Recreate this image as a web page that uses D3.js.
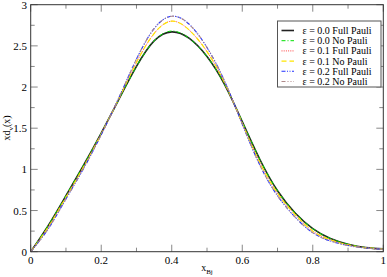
<!DOCTYPE html>
<html>
<head>
<meta charset="utf-8">
<script src="https://cdn.jsdelivr.net/npm/d3@7"></script>
<style>
  body { margin: 0; background: #fff; }
  svg { display: block; font-family: "Liberation Serif", "DejaVu Serif", serif; }
</style>
</head>
<body>
<svg id="chart" width="387" height="277"></svg>
<script>
// x grid the curves were read at
var xBj = [0, 0.05, 0.1, 0.15, 0.2, 0.25, 0.3, 0.35, 0.4, 0.45, 0.5, 0.55, 0.6, 0.65, 0.7, 0.75, 0.8, 0.85, 0.9, 0.95, 1.0];

// x d_v(x) values
var eps00Full = [0, 0.32, 0.68, 1.05, 1.44, 1.85, 2.25, 2.56, 2.67, 2.59, 2.37, 2.03, 1.58, 1.12, 0.74, 0.47, 0.28, 0.16, 0.09, 0.05, 0.035];
var eps00NoPauli = [0, 0.32, 0.68, 1.05, 1.44, 1.85, 2.25, 2.56, 2.68, 2.59, 2.37, 2.03, 1.58, 1.12, 0.74, 0.47, 0.28, 0.16, 0.09, 0.05, 0.035];
var eps01Full = [0, 0.30, 0.66, 1.03, 1.43, 1.86, 2.30, 2.65, 2.80, 2.69, 2.43, 2.05, 1.56, 1.08, 0.71, 0.45, 0.25, 0.145, 0.082, 0.048, 0.032];
var eps01NoPauli = [0, 0.30, 0.66, 1.03, 1.43, 1.86, 2.30, 2.65, 2.80, 2.69, 2.43, 2.05, 1.56, 1.08, 0.71, 0.45, 0.25, 0.145, 0.082, 0.048, 0.032];
var eps02Full = [0, 0.28, 0.64, 1.01, 1.42, 1.87, 2.34, 2.71, 2.86, 2.76, 2.48, 2.07, 1.55, 1.05, 0.68, 0.42, 0.23, 0.13, 0.075, 0.045, 0.03];
var eps02NoPauli = [0, 0.28, 0.64, 1.01, 1.42, 1.87, 2.34, 2.71, 2.86, 2.76, 2.48, 2.07, 1.55, 1.05, 0.68, 0.42, 0.23, 0.13, 0.075, 0.045, 0.03];

var seriesNames = ["\u03b5 = 0.0 Full Pauli", "\u03b5 = 0.0 No Pauli", "\u03b5 = 0.1 Full Pauli",
                   "\u03b5 = 0.1 No Pauli", "\u03b5 = 0.2 Full Pauli", "\u03b5 = 0.2 No Pauli"];
var seriesValues = [eps00Full, eps00NoPauli, eps01Full, eps01NoPauli, eps02Full, eps02NoPauli];

var xTicks = [0, 0.2, 0.4, 0.6, 0.8, 1];
var xTickLabels = ["0", "0.2", "0.4", "0.6", "0.8", "1"];
var yTicks = [0, 0.5, 1, 1.5, 2, 2.5, 3];
var yTickLabels = ["0", "0.5", "1", "1.5", "2", "2.5", "3"];

var styles = [
    { color: "#222222", dash: null, width: 1.6 },
    { color: "#00e000", dash: "4,2,1,2", width: 1 },
    { color: "#ff4040", dash: "1,1.2", width: 1 },
    { color: "#ffe600", dash: "5,3", width: 1.2 },
    { color: "#2030ff", dash: "4,1.5,1,1.5,1,1.5", width: 1.1 },
    { color: "#b08a8a", dash: "4,2,1,2,1,2", width: 1.1 }
];

var svg = d3.select("#chart");
var plotL = 30.7, plotR = 383.3, plotT = 4.7, plotB = 251.7;

var x = d3.scaleLinear().domain([0, 1]).range([plotL, plotR]);
var y = d3.scaleLinear().domain([0, 3]).range([plotB, plotT]);

var g = svg.append("g");

// minor + major ticks on all four sides, pointing inward
var tickCol = "#888";
function vTicks(vals, len) {
    vals.forEach(function(v) {
        g.append("line").attr("x1", x(v)).attr("x2", x(v)).attr("y1", plotB).attr("y2", plotB - len)
            .attr("stroke", tickCol).attr("stroke-width", 1);
        g.append("line").attr("x1", x(v)).attr("x2", x(v)).attr("y1", plotT).attr("y2", plotT + len)
            .attr("stroke", tickCol).attr("stroke-width", 1);
    });
}
function hTicks(vals, len) {
    vals.forEach(function(v) {
        g.append("line").attr("y1", y(v)).attr("y2", y(v)).attr("x1", plotL).attr("x2", plotL + len)
            .attr("stroke", tickCol).attr("stroke-width", 1);
        g.append("line").attr("y1", y(v)).attr("y2", y(v)).attr("x1", plotR).attr("x2", plotR - len)
            .attr("stroke", tickCol).attr("stroke-width", 1);
    });
}
vTicks(d3.range(0.1, 1, 0.2), 4);
vTicks(xTicks, 7);
hTicks(d3.range(0.25, 3, 0.5), 4);
hTicks(yTicks, 7);

// curves
var line = d3.line()
    .x(function(d) { return x(d[0]); })
    .y(function(d) { return y(d[1]); })
    .curve(d3.curveNatural);

seriesValues.forEach(function(vals, i) {
    var pts = xBj.map(function(xv, j) { return [xv, vals[j]]; });
    g.append("path")
        .attr("d", line(pts))
        .attr("fill", "none")
        .attr("stroke", styles[i].color)
        .attr("stroke-width", styles[i].width)
        .attr("stroke-dasharray", styles[i].dash);
});

// frame
g.append("rect")
    .attr("x", plotL).attr("y", plotT)
    .attr("width", plotR - plotL).attr("height", plotB - plotT)
    .attr("fill", "none").attr("stroke", "#333").attr("stroke-width", 1);

// tick labels
xTicks.forEach(function(v, i) {
    g.append("text").attr("x", x(v)).attr("y", 264)
        .attr("text-anchor", "middle").attr("font-size", 11)
        .text(xTickLabels[i]);
});
yTicks.forEach(function(v, i) {
    g.append("text").attr("x", 27).attr("y", y(v) + 4)
        .attr("text-anchor", "end").attr("font-size", 11)
        .text(yTickLabels[i]);
});

// axis titles
var xt = g.append("text").attr("x", 207).attr("y", 271)
    .attr("text-anchor", "middle").attr("font-size", 10);
xt.append("tspan").text("x");
xt.append("tspan").attr("dy", 3).attr("font-size", 7).text("Bj");

var yt = g.append("text")
    .attr("transform", "translate(10," + 128 + ") rotate(-90)")
    .attr("text-anchor", "middle").attr("font-size", 10);
yt.append("tspan").text("xd");
yt.append("tspan").attr("dy", 3).attr("font-size", 7).text("v");
yt.append("tspan").attr("dy", -3).text("(x)");

// legend
var leg = g.append("g");
leg.append("rect")
    .attr("x", 277.5).attr("y", 21).attr("width", 103.5).attr("height", 66)
    .attr("fill", "#fff").attr("stroke", "#555").attr("stroke-width", 1);
seriesNames.forEach(function(name, i) {
    var ly = 30.5 + i * 10.2;
    leg.append("line")
        .attr("x1", 281.5).attr("x2", 294).attr("y1", ly).attr("y2", ly)
        .attr("stroke", styles[i].color)
        .attr("stroke-width", styles[i].width)
        .attr("stroke-dasharray", styles[i].dash);
    leg.append("text").attr("x", 302.5).attr("y", ly + 3.5)
        .attr("font-size", 10).text(name);
});
</script>
</body>
</html>
